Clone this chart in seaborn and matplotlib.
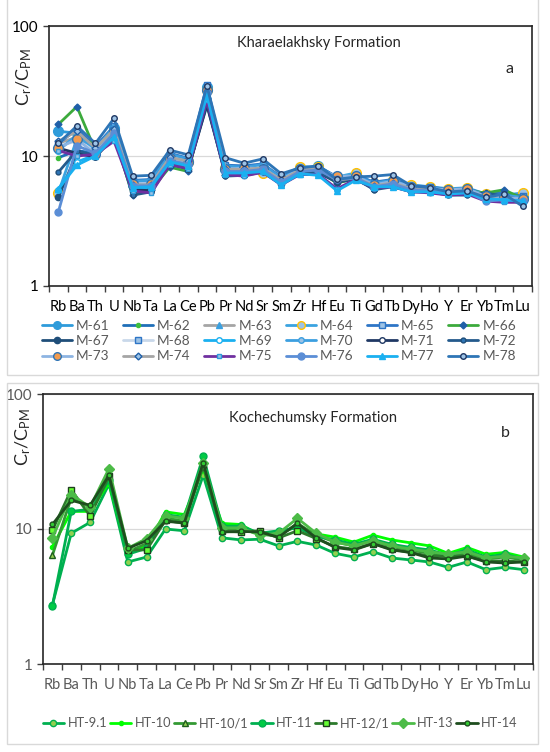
import numpy as np
import matplotlib
matplotlib.use('Agg')
import matplotlib.pyplot as plt
import seaborn as sns
from matplotlib.lines import Line2D

elements = ['Rb', 'Ba', 'Th', 'U', 'Nb', 'Ta', 'La', 'Ce', 'Pb', 'Pr', 'Nd', 'Sr', 'Sm',
            'Zr', 'Hf', 'Eu', 'Ti', 'Gd', 'Tb', 'Dy', 'Ho', 'Y', 'Er', 'Yb', 'Tm', 'Lu']

# Kharaelakhsky Formation, normalised to primitive mantle
m61 = [15.5, 15.0, 11.5, 16.5, 6.0, 6.2, 10.0, 9.2, 34.0, 8.0, 8.0, 8.3, 6.6, 7.9, 8.4, 6.8, 6.9, 6.0, 6.3, 5.8, 5.7, 5.4, 5.5, 5.0, 5.0, 4.8]
m62 = [9.7, 11.0, 10.5, 15.0, 5.8, 5.8, 9.3, 8.6, 30.0, 7.6, 7.5, 7.8, 6.4, 7.6, 7.8, 6.4, 6.8, 5.7, 6.0, 5.5, 5.4, 5.2, 5.3, 4.9, 4.9, 4.6]
m63 = [12.5, 14.0, 11.0, 15.5, 5.9, 6.0, 9.6, 8.9, 31.0, 7.8, 7.8, 8.0, 6.5, 7.7, 8.0, 6.6, 6.9, 5.9, 6.2, 5.6, 5.5, 5.3, 5.4, 4.8, 4.8, 4.6]
m64 = [5.2, 13.5, 10.8, 15.0, 6.2, 6.3, 9.5, 9.0, 32.0, 8.1, 8.3, 7.4, 6.8, 8.3, 8.2, 6.9, 7.4, 6.2, 6.5, 6.0, 5.8, 5.6, 5.7, 5.1, 5.0, 5.2]
m65 = [12.5, 16.0, 11.8, 17.0, 6.5, 6.6, 10.5, 9.6, 35.0, 8.5, 8.4, 8.7, 6.9, 8.0, 8.3, 6.9, 7.0, 6.3, 6.6, 5.9, 5.8, 5.5, 5.6, 5.1, 5.2, 4.9]
m66 = [17.5, 24.0, 11.0, 14.5, 5.0, 5.5, 8.2, 7.6, 28.0, 7.2, 7.3, 7.6, 6.2, 7.4, 7.7, 6.2, 6.7, 5.7, 6.0, 5.4, 5.4, 5.2, 5.4, 5.2, 5.5, 4.7]
m67 = [4.8, 10.5, 10.0, 14.0, 5.4, 5.6, 8.6, 8.0, 24.5, 7.2, 7.2, 7.6, 6.1, 7.4, 7.4, 6.3, 6.6, 5.6, 6.0, 5.4, 5.3, 5.1, 5.1, 4.8, 4.7, 4.5]
m68 = [12.0, 13.0, 11.2, 16.0, 6.3, 6.4, 9.9, 9.3, 33.0, 8.2, 8.1, 8.2, 6.7, 7.8, 8.1, 6.7, 6.8, 6.1, 6.4, 5.7, 5.6, 5.4, 5.5, 5.0, 4.9, 4.7]
m69 = [5.5, 9.0, 10.2, 14.5, 5.6, 5.7, 8.8, 8.2, 29.0, 7.5, 7.3, 7.7, 6.0, 7.3, 7.2, 5.5, 6.6, 5.8, 5.9, 5.4, 5.3, 5.1, 5.2, 4.6, 4.6, 4.4]
m70 = [11.0, 14.5, 11.3, 16.8, 6.4, 6.5, 10.3, 9.5, 33.5, 8.4, 8.2, 8.6, 6.8, 7.9, 8.2, 6.8, 7.0, 6.2, 6.5, 5.8, 5.7, 5.5, 5.6, 5.0, 5.0, 4.8]
m71 = [11.5, 10.5, 9.8, 14.0, 5.5, 5.4, 8.7, 8.0, 25.0, 7.3, 7.2, 7.7, 6.2, 7.5, 7.6, 6.5, 6.8, 5.6, 5.9, 5.4, 5.3, 5.1, 5.1, 4.9, 4.9, 4.5]
m72 = [7.5, 11.0, 10.0, 14.5, 5.0, 5.3, 8.7, 8.1, 26.0, 7.0, 7.1, 7.5, 6.1, 7.3, 7.5, 6.4, 6.7, 5.5, 5.8, 5.3, 5.3, 5.0, 5.0, 5.2, 4.9, 4.6]
m73 = [11.5, 13.5, 10.3, 15.5, 6.1, 6.1, 9.6, 9.0, 32.0, 7.9, 8.1, 8.0, 6.6, 7.9, 7.9, 7.0, 7.0, 6.0, 6.4, 5.8, 5.6, 5.5, 5.6, 4.9, 4.8, 4.7]
m74 = [13.0, 15.5, 11.5, 16.0, 6.0, 6.0, 9.8, 9.1, 31.5, 7.9, 7.9, 8.1, 6.5, 7.8, 8.0, 6.5, 6.8, 5.9, 6.2, 5.6, 5.5, 5.3, 5.4, 4.8, 4.6, 4.4]
m75 = [11.0, 10.0, 10.3, 13.0, 5.4, 5.2, 8.6, 8.0, 27.0, 7.2, 7.0, 7.5, 6.0, 7.2, 7.2, 5.6, 6.6, 5.7, 5.8, 5.3, 5.2, 5.0, 5.1, 4.5, 4.4, 4.4]
m76 = [3.7, 12.0, 10.5, 15.0, 5.9, 5.9, 9.2, 8.6, 30.5, 7.6, 7.6, 7.9, 6.3, 7.6, 7.8, 6.6, 6.8, 5.8, 6.1, 5.5, 5.4, 5.2, 5.3, 4.5, 4.6, 4.5]
m77 = [5.6, 8.5, 10.0, 14.0, 5.7, 5.8, 9.0, 8.4, 29.5, 7.4, 7.4, 7.6, 6.0, 7.3, 7.1, 5.4, 6.5, 5.8, 5.8, 5.3, 5.3, 5.1, 5.2, 4.7, 4.6, 4.5]
m78 = [12.5, 17.0, 12.5, 19.5, 7.0, 7.1, 11.1, 10.2, 34.5, 9.7, 8.8, 9.5, 7.3, 8.1, 8.4, 6.6, 6.9, 7.0, 7.2, 5.9, 5.7, 5.3, 5.4, 4.8, 5.1, 4.1]

# Kochechumsky Formation
ht91 = [2.75, 9.3, 11.2, 21.5, 5.7, 6.2, 10.0, 9.7, 25.0, 8.6, 8.3, 8.4, 7.5, 8.1, 7.6, 6.6, 6.2, 6.8, 6.1, 5.9, 5.7, 5.2, 5.7, 5.0, 5.2, 5.0]
ht10 = [7.4, 13.5, 13.5, 22.0, 6.6, 7.5, 13.4, 12.8, 28.0, 11.0, 10.8, 9.0, 9.2, 10.5, 9.2, 8.7, 8.0, 9.0, 8.3, 7.9, 7.5, 6.6, 7.3, 6.5, 6.7, 6.2]
ht101 = [6.4, 17.0, 14.5, 24.0, 6.8, 7.8, 12.0, 11.5, 29.0, 10.0, 10.0, 9.2, 8.8, 11.0, 9.0, 8.0, 7.5, 8.2, 7.4, 7.0, 6.6, 6.2, 6.6, 6.0, 6.2, 5.9]
ht11 = [2.7, 13.5, 14.0, 23.0, 6.5, 7.2, 12.8, 12.2, 34.5, 10.5, 10.5, 9.3, 9.7, 10.2, 8.8, 8.3, 7.7, 8.4, 7.7, 7.3, 7.0, 6.4, 7.0, 6.2, 6.5, 6.0]
ht121 = [9.8, 19.5, 12.5, 24.5, 7.0, 7.0, 11.6, 11.0, 30.0, 9.6, 9.5, 9.7, 8.6, 9.7, 8.5, 7.4, 7.1, 7.8, 7.1, 6.7, 6.3, 6.3, 6.3, 5.8, 5.8, 5.7]
ht13 = [8.6, 18.0, 14.5, 28.0, 7.2, 8.5, 12.5, 12.0, 31.0, 10.2, 10.2, 9.0, 9.3, 12.0, 9.3, 8.0, 7.5, 8.2, 7.5, 7.1, 6.8, 6.5, 6.8, 6.1, 6.3, 6.1]
ht14 = [10.8, 16.3, 15.0, 25.0, 7.2, 8.2, 11.4, 11.1, 31.0, 9.5, 9.6, 9.5, 8.7, 11.0, 8.6, 7.3, 7.0, 7.8, 7.0, 6.7, 6.1, 6.0, 6.3, 5.7, 5.6, 5.7]

# name, values, line colour, marker, size, face, edge
series_a = [
    ('M-61', m61, '#2E9BDA', 'o', 7, '#2E9BDA', '#2E9BDA'),
    ('M-62', m62, '#1F6FB8', 'o', 3, '#3DBE3D', '#3DBE3D'),
    ('M-63', m63, '#A5A5A5', '^', 5, '#3AA0E0', '#3AA0E0'),
    ('M-64', m64, '#3BA3E0', 'o', 7, '#9DC3E6', '#FFC000'),
    ('M-65', m65, '#2E75C6', 's', 5, '#9DC3E6', '#2E75C6'),
    ('M-66', m66, '#3CAA3C', 'D', 3.5, '#1F5FA8', '#1F5FA8'),
    ('M-67', m67, '#1F4E79', 'o', 4.5, '#1F4E79', '#1F4E79'),
    ('M-68', m68, '#C9D8EA', 's', 5, '#9DC3E6', '#2E75C6'),
    ('M-69', m69, '#1AB0F0', 'o', 4, 'white', '#1AB0F0'),
    ('M-70', m70, '#3C9FE0', 'o', 4, '#9DC3E6', '#3C9FE0'),
    ('M-71', m71, '#1F3864', 'o', 4, 'white', '#1F3864'),
    ('M-72', m72, '#245A8C', 'o', 3.5, '#2E75B6', '#1F4E79'),
    ('M-73', m73, '#8DB4E2', 'o', 7, '#F39B4E', '#2E75B6'),
    ('M-74', m74, '#A5A5A5', 'D', 3.5, '#9DC3E6', '#1F5FA8'),
    ('M-75', m75, '#7030A0', 's', 3.5, '#9DC3E6', '#2E9BDA'),
    ('M-76', m76, '#5B8ED6', 'o', 5, '#5B8ED6', '#5B8ED6'),
    ('M-77', m77, '#1AB0F0', '^', 5, '#1AB0F0', '#1AB0F0'),
    ('M-78', m78, '#2E75B6', 'o', 4, '#9DC3E6', '#1F3864'),
]

series_b = [
    ('HT-9.1', ht91, '#00B050', 'o', 4.5, '#92D050', '#00B050'),
    ('HT-10', ht10, '#00FF00', 'o', 3, '#00FF00', '#00FF00'),
    ('HT-10/1', ht101, '#339933', '^', 4.5, '#92D050', '#1E5E1E'),
    ('HT-11', ht11, '#00B050', 'o', 5, '#00CC44', '#00B050'),
    ('HT-12/1', ht121, '#2C7A2C', 's', 4, '#66FF33', '#1E3F1E'),
    ('HT-13', ht13, '#4CBB47', 'D', 5, '#4CBB47', '#4CBB47'),
    ('HT-14', ht14, '#1E4D1E', 'o', 3.5, '#33CC33', '#1E4D1E'),
]

sns.set_style('white')
plt.rcParams['font.family'] = ['Lato', 'DejaVu Sans']
plt.rcParams['mathtext.default'] = 'regular'

W, H = 550, 752
fig = plt.figure(figsize=(W / 100, H / 100), dpi=100)

def px(x, y):
    return x / W, 1 - y / H

# panel frames
for y0, y1 in [(-5, 375), (383, 744)]:
    fig.add_artist(plt.Rectangle(px(7, y1), (538 - 7) / W, (y1 - y0) / H,
                                 transform=fig.transFigure, fill=False,
                                 edgecolor='#D9D9D9', linewidth=1.0))

ax1 = fig.add_axes([49 / W, 1 - 286 / H, (532 - 49) / W, (286 - 26) / H])
ax2 = fig.add_axes([43 / W, 1 - 664 / H, (533 - 43) / W, (664 - 394) / H])

pos = np.arange(len(elements))

def draw(ax, series, tick_color):
    handles = []
    for name, vals, col, mk, ms, fc, ec in series:
        sns.lineplot(x=pos, y=vals, ax=ax, color=col, linewidth=2.0, marker=mk,
                     markersize=ms, markerfacecolor=fc, markeredgecolor=ec,
                     markeredgewidth=1.0, label=name, legend=False)
        handles.append(Line2D([], [], color=col, linewidth=2.0, marker=mk,
                              markersize=min(ms, 5.5), markerfacecolor=fc,
                              markeredgecolor=ec, markeredgewidth=1.0, label=name))
    ax.set_yscale('log')
    ax.set_ylim(1, 100)
    ax.set_xlim(-0.5, len(elements) - 0.5)
    ax.set_yticks([1, 10, 100])
    ax.set_yticklabels(['1', '10', '100'])
    ax.yaxis.set_minor_locator(matplotlib.ticker.NullLocator())
    ax.set_xticks(pos)
    ax.set_xticklabels(elements)
    ax.set_xticks(np.arange(-0.5, len(elements)), minor=True)
    ax.tick_params(axis='x', which='major', length=0, pad=10, labelsize=10.5,
                   labelcolor=tick_color)
    ax.tick_params(axis='x', which='minor', length=4, width=1, color='#404040',
                   direction='out', bottom=True)
    ax.tick_params(axis='y', which='major', length=4, width=1, color='#404040',
                   direction='out', left=True, labelsize=11, labelcolor=tick_color)
    ax.grid(axis='y', which='major', color='#D9D9D9', linewidth=0.9)
    ax.set_axisbelow(True)
    for sp in ax.spines.values():
        sp.set_visible(True)
        sp.set_color('#262626')
        sp.set_linewidth(1.2)
    ax.set_xlabel('')
    ax.set_ylabel('')
    return handles

h1 = draw(ax1, series_a, 'black')
h2 = draw(ax2, series_b, '#595959')

fig.text(*px(319, 43), 'Kharaelakhsky Formation', ha='center', va='center', fontsize=10.5)
fig.text(*px(510, 69), 'a', ha='center', va='center', fontsize=11.5)
fig.text(*px(313, 418), 'Kochechumsky Formation', ha='center', va='center', fontsize=10.5)
fig.text(*px(505, 433), 'b', ha='center', va='center', fontsize=11.5)
fig.text(*px(24, 77), r'$C_r/C_{PM}$', rotation=90, ha='center', va='center', fontsize=13)
fig.text(*px(23, 437), r'$C_r/C_{PM}$', rotation=90, ha='center', va='center', fontsize=13)

# row-major ordering for a 6-column legend
ncol = 6
nrow = 3
order = [r * ncol + c for c in range(ncol) for r in range(nrow)]
leg1 = fig.legend([h1[i] for i in order], [h1[i].get_label() for i in order],
                  loc='center', bbox_to_anchor=px(279, 341), ncol=ncol, frameon=False,
                  fontsize=9.8, handlelength=2.2, handletextpad=0.3, columnspacing=1.0,
                  labelspacing=0.25, borderpad=0)
for t in leg1.get_texts():
    t.set_color('#595959')

leg2 = fig.legend(h2, [h.get_label() for h in h2], loc='center',
                  bbox_to_anchor=px(280, 723), ncol=7, frameon=False, fontsize=9.2,
                  handlelength=1.7, handletextpad=0.25, columnspacing=0.2, borderpad=0)
for t in leg2.get_texts():
    t.set_color('#595959')

fig.savefig('out.png', dpi=100)
